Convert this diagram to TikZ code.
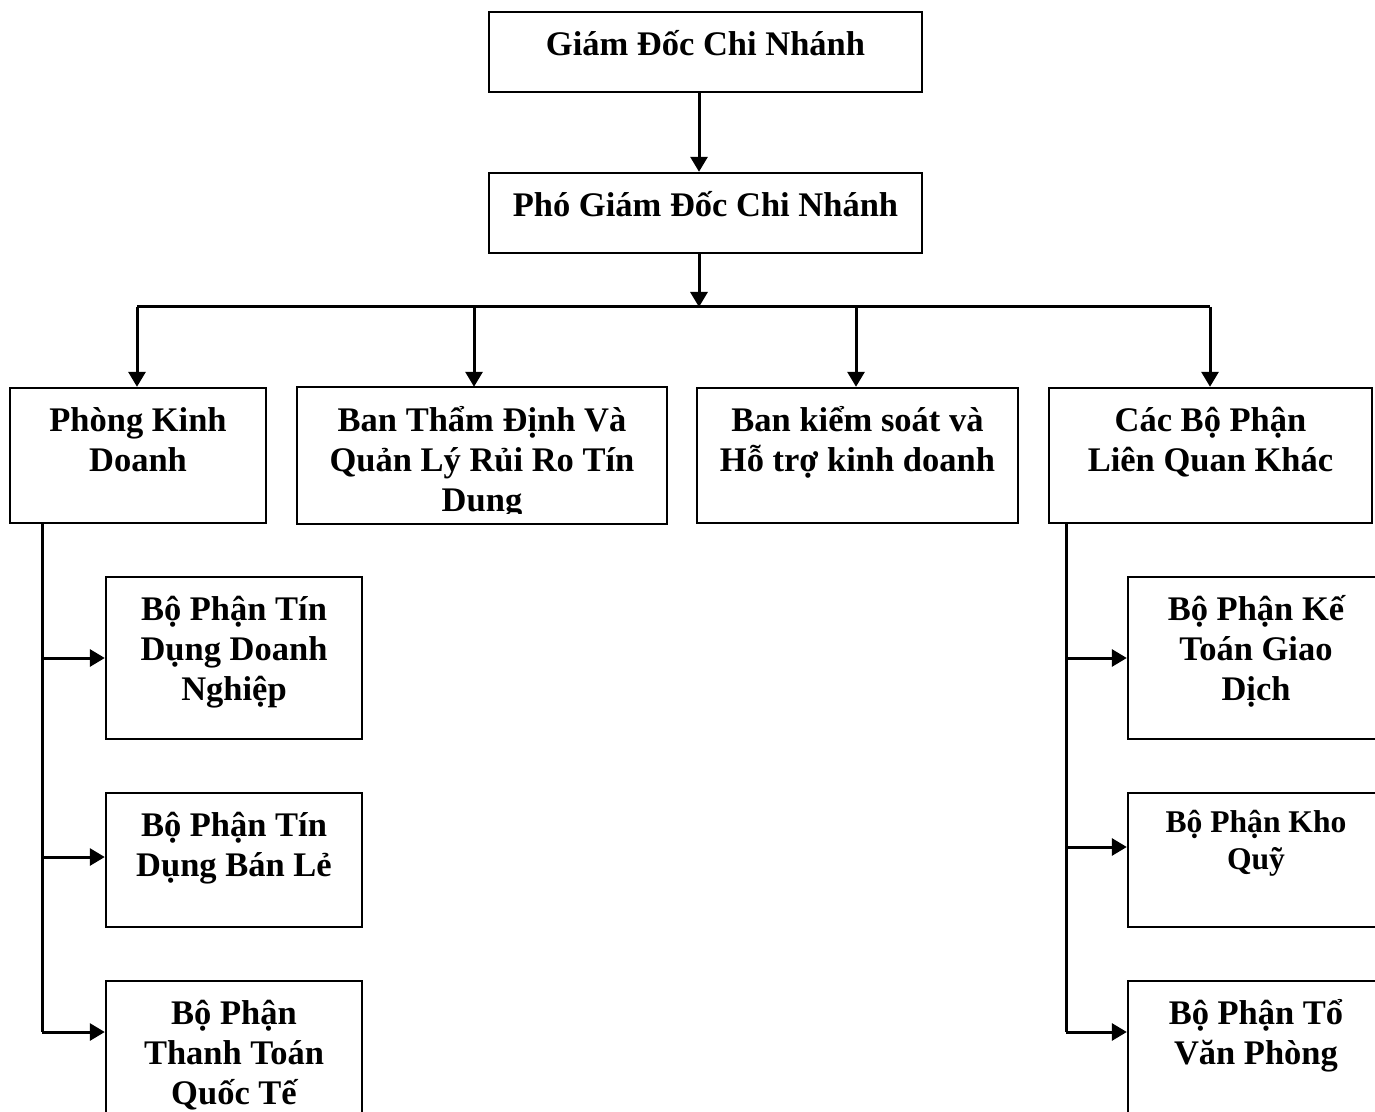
\documentclass[tikz,border=0pt]{standalone}
\usepackage{fontspec}
\setmainfont{Liberation Serif}
\usetikzlibrary{arrows.meta}
\newcommand{\unitlabel}[3]{\parbox[c][#2][t]{#1}{\centering\rule{0pt}{1.25em}#3}}

\begin{document}
\begin{tikzpicture}[x=0.5pt, y=-0.5pt,
    unit/.style={draw, line width=1.2pt, inner sep=0pt, font=\fontsize{17.25}{20}\selectfont\bfseries},
    link/.style={line width=1.5pt},
    arr/.style={link, -{Triangle[length=7.5pt,width=8.5pt]}}]
    \useasboundingbox (0,0) rectangle (1375,1112);
    \clip (0,0) rectangle (1375,1112);

    % Director and deputy
    \node[unit] (gd) at (705.5,52) {\unitlabel{216.5pt}{40pt}{Giám Đốc Chi Nhánh}};
    \node[unit] (pgd) at (705.5,213) {\unitlabel{216.5pt}{40pt}{Phó Giám Đốc Chi Nhánh}};
    \coordinate (bus) at (699,307);
    \draw[arr] (gd.south -| bus) -- (pgd.north -| bus);
    \draw[arr] (pgd.south -| bus) -- (bus);

    % Departments
    \node[unit] (sales) at (138,455.5) {\unitlabel{128pt}{67.5pt}{Phòng Kinh\\Doanh}};
    \begin{scope}
        \clip (298,388) rectangle (666,513);
        \node[unit, draw=none] (credit) at (482,455.5) {\unitlabel{184pt}{67.5pt}{Ban Thẩm Định Và\\Quản Lý Rủi Ro Tín\\Dung}};
    \end{scope}
    \draw[line width=1.2pt] (credit.north west) rectangle (credit.south east);
    \node[unit] (control) at (857.5,455.5) {\unitlabel{160.5pt}{67.5pt}{Ban kiểm soát và\\Hỗ trợ kinh doanh}};
    \node[unit] (other) at (1210.5,455.5) {\unitlabel{161.5pt}{67.5pt}{Các Bộ Phận\\Liên Quan Khác}};

    \draw[link] (137,307) -- (1210,307);
    \foreach \n/\x in {sales/137, credit/474, control/856, other/1210}
        \draw[arr] (\x,307) -- (\n.north -| \x,0);

    % Sections under Phong Kinh Doanh
    \node[unit] (b1) at (234,658) {\unitlabel{128pt}{81pt}{Bộ Phận Tín\\Dụng Doanh\\Nghiệp}};
    \node[unit] (b2) at (234,860) {\unitlabel{128pt}{67pt}{Bộ Phận Tín\\Dụng Bán Lẻ}};
    \node[unit] (b3) at (234,1062) {\unitlabel{128pt}{81pt}{Bộ Phận\\Thanh Toán\\Quốc Tế}};
    \coordinate (lspine) at (42,0);
    \draw[link] (sales.south -| lspine) -- (lspine |- 0,1032);
    \foreach \n/\y in {b1/658, b2/857, b3/1032}
        \draw[arr] (42,\y) -- (\n.west |- 0,\y);

    % Sections under Cac Bo Phan
    \node[unit] (r1) at (1256,658) {\unitlabel{128pt}{81pt}{Bộ Phận Kế\\Toán Giao\\Dịch}};
    \node[unit, font=\fontsize{15.8}{18.5}\selectfont\bfseries] (r2) at (1256,860) {\unitlabel{128pt}{67pt}{Bộ Phận Kho\\Quỹ}};
    \node[unit] (r3) at (1256,1062) {\unitlabel{128pt}{81pt}{Bộ Phận Tổ\\Văn Phòng}};
    \coordinate (rspine) at (1066,0);
    \draw[link] (other.south -| rspine) -- (rspine |- 0,1032);
    \foreach \n/\y in {r1/658, r2/847, r3/1032}
        \draw[arr] (1066,\y) -- (\n.west |- 0,\y);
\end{tikzpicture}
\end{document}
